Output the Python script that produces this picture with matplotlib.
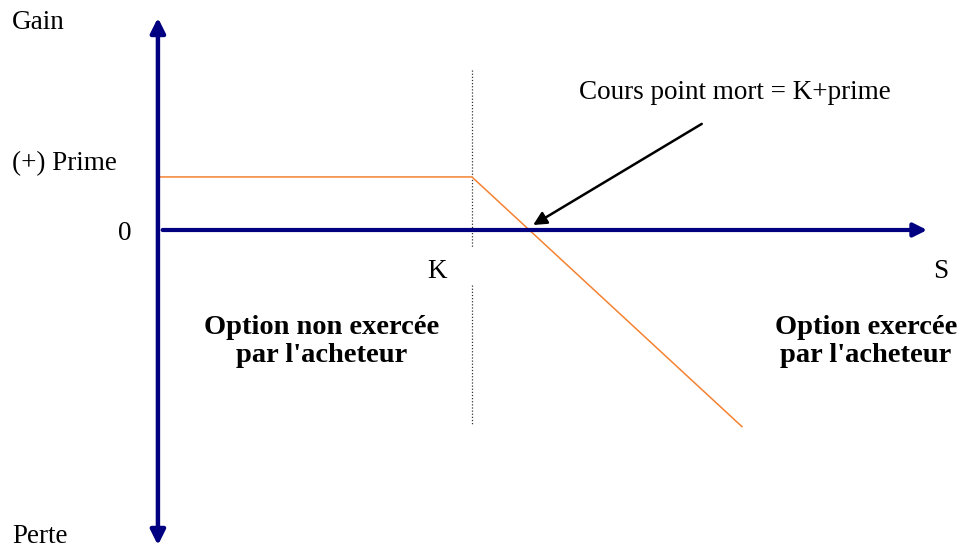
import matplotlib.pyplot as plt

# payoff of the option seller (S on x, gain/perte on y)
strike = 100
prime = 17
s_points = [0, strike, 186]
payoff = [prime, prime, -63]
breakeven = 118.3

# extent of the drawn axes
s_axis_max = 245
gain_max = 68
perte_min = -101

navy = "#000080"
orange = "#f58231"
serif = "Liberation Serif"

fig = plt.figure(figsize=(9.57, 5.48), dpi=100)
ax = fig.add_axes([0, 0, 1, 1])
ax.set_xlim(-50.3, 254.5)
ax.set_ylim(-101.9, 73.7)
ax.axis("off")

# axes with arrows
ax.annotate("", xy=(0, gain_max), xytext=(0, perte_min),
            arrowprops=dict(arrowstyle="<|-|>", color=navy, lw=3.2,
                            mutation_scale=22, shrinkA=0, shrinkB=0))
ax.annotate("", xy=(s_axis_max, 0), xytext=(1.5, 0),
            arrowprops=dict(arrowstyle="-|>", color=navy, lw=3.0,
                            mutation_scale=20, shrinkA=0, shrinkB=0))

# strike line (interrupted for the K label)
ax.plot([strike, strike], [51.3, -5.4], ls=(0, (1, 1.5)), color="#333333", lw=0.9)
ax.plot([strike, strike], [-17.6, -62.5], ls=(0, (1, 1.5)), color="#333333", lw=0.9)

# payoff
ax.plot(s_points, payoff, color=orange, lw=1.1)

# break-even pointer
ax.annotate("", xy=(breakeven + 1.2, 1.6), xytext=(173.2, 34),
            arrowprops=dict(arrowstyle="-|>", color="black", lw=1.8,
                            mutation_scale=20, shrinkA=0, shrinkB=0))

fs = 19.5
fb = 20.5
ax.text(-46.5, 66.4, "Gain", fontsize=fs, family=serif, ha="left", va="center")
ax.text(-46.5, -98.3, "Perte", fontsize=fs, family=serif, ha="left", va="center")
ax.text(-46.5, prime + 4.2, "(+) Prime", fontsize=fs, family=serif, ha="left", va="center")
ax.text(-10.5, -1.2, "0", fontsize=fs, family=serif, ha="center", va="center")
ax.text(strike - 11, -13.2, "K", fontsize=fs, family=serif, ha="center", va="center")
ax.text(s_axis_max + 4.3, -13.2, "S", fontsize=fs, family=serif, ha="center", va="center")
ax.text(233.5, 44.2, "Cours point mort = K+prime", fontsize=fs, family=serif,
        ha="right", va="center")
ax.text(52, -35.6, "Option non exercée\npar l'acheteur", fontsize=fb, family=serif,
        weight="bold", ha="center", va="center", linespacing=1.15)
ax.text(225.5, -35.6, "Option exercée\npar l'acheteur", fontsize=fb, family=serif,
        weight="bold", ha="center", va="center", linespacing=1.15)

fig.savefig("out.png", dpi=100)
